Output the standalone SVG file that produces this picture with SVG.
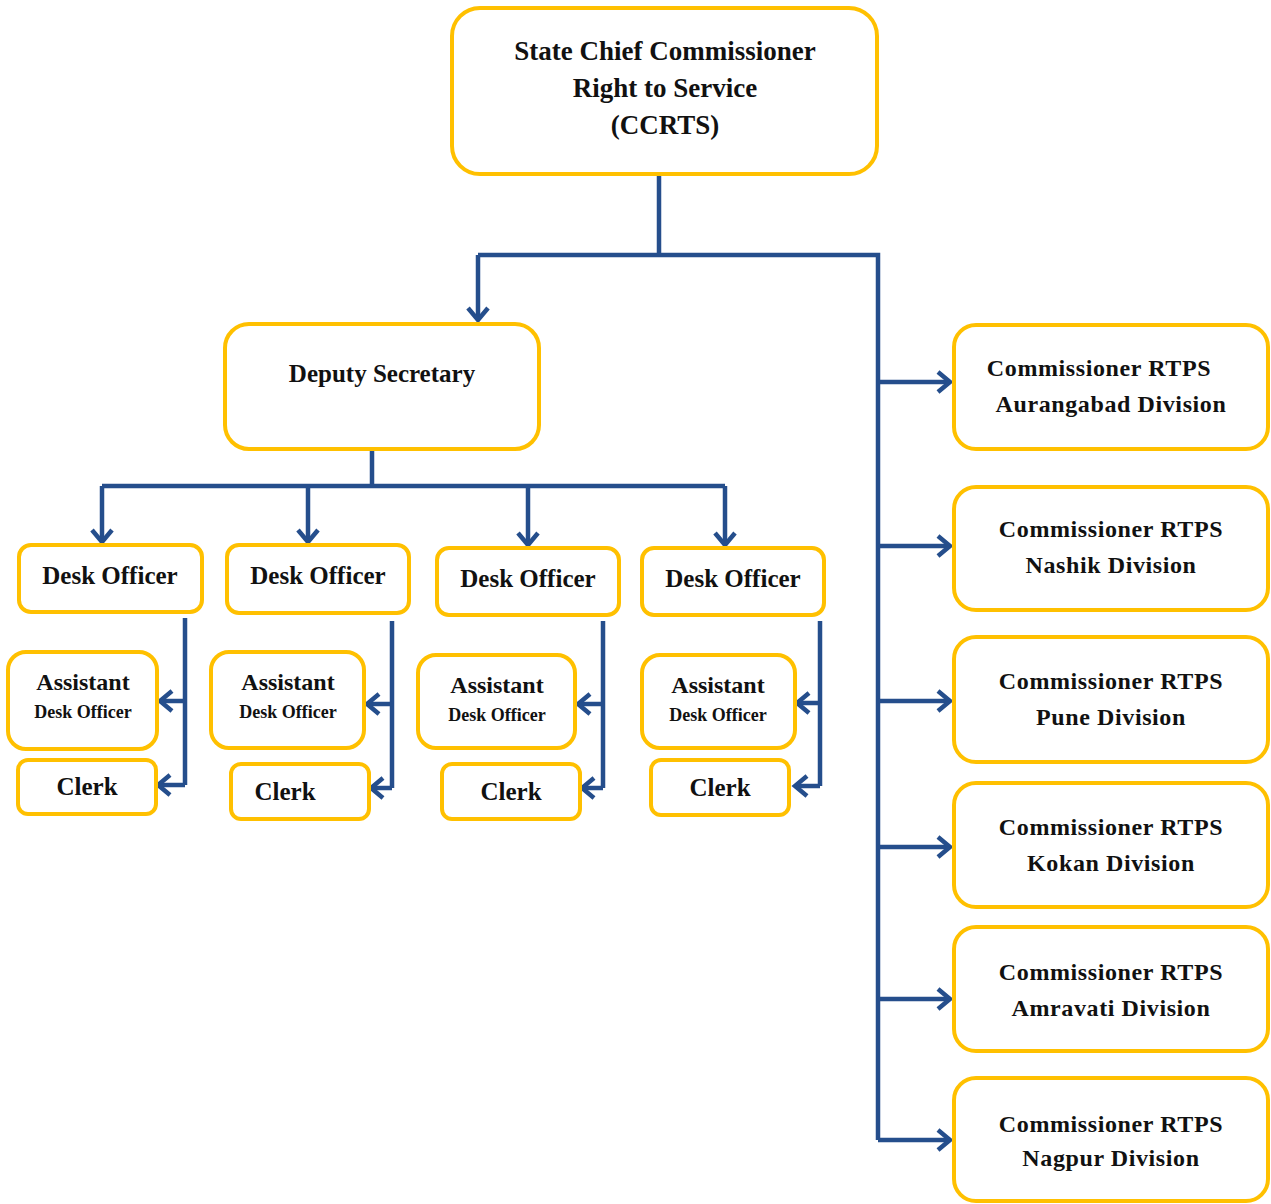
<svg xmlns="http://www.w3.org/2000/svg" width="1271" height="1204" viewBox="0 0 1271 1204">
<style>
.box{fill:#fff;stroke:#FFC000;stroke-width:4}
.t{font-family:"Liberation Serif","Times New Roman",serif;font-weight:bold;fill:#111;text-anchor:middle}
.r{font-size:24px;letter-spacing:0.6px}
.c{fill:none;stroke:#254E8C;stroke-width:4.5}
</style>
<defs>
<marker id="ah" markerUnits="userSpaceOnUse" markerWidth="30" markerHeight="30" refX="20" refY="15" orient="auto">
<polyline points="8,5 20,15 8,25" fill="none" stroke="#254E8C" stroke-width="4.5"/>
</marker>
</defs>
<rect width="1271" height="1204" fill="#fff"/>
<g id="connectors">
<path class="c" d="M659,174 V255 M478,255 H878 V1140"/>
<path class="c" d="M478,255 V320" marker-end="url(#ah)"/>
<path class="c" d="M372,449 V486 M102,486 H725"/>
<path class="c" d="M102,486 V542" marker-end="url(#ah)"/>
<path class="c" d="M308,486 V542" marker-end="url(#ah)"/>
<path class="c" d="M528,486 V545" marker-end="url(#ah)"/>
<path class="c" d="M725,486 V545" marker-end="url(#ah)"/>
<path class="c" d="M185,618 V785"/>
<path class="c" d="M185,701 H160" marker-end="url(#ah)"/>
<path class="c" d="M185,785 H158" marker-end="url(#ah)"/>
<path class="c" d="M392,621 V788"/>
<path class="c" d="M392,704 H367" marker-end="url(#ah)"/>
<path class="c" d="M392,788 H371" marker-end="url(#ah)"/>
<path class="c" d="M603,621 V788"/>
<path class="c" d="M603,704 H578" marker-end="url(#ah)"/>
<path class="c" d="M603,788 H582" marker-end="url(#ah)"/>
<path class="c" d="M820,621 V786"/>
<path class="c" d="M820,703 H797" marker-end="url(#ah)"/>
<path class="c" d="M820,786 H795" marker-end="url(#ah)"/>
<path class="c" d="M878,382 H950" marker-end="url(#ah)"/>
<path class="c" d="M878,546 H950" marker-end="url(#ah)"/>
<path class="c" d="M878,701 H950" marker-end="url(#ah)"/>
<path class="c" d="M878,847 H950" marker-end="url(#ah)"/>
<path class="c" d="M878,999 H950" marker-end="url(#ah)"/>
<path class="c" d="M878,1140 H950" marker-end="url(#ah)"/>
</g>
<g id="ccrts"><rect class="box" x="452" y="8" width="425" height="166" rx="28"/>
<text class="t" font-size="27" x="665" y="60">State Chief Commissioner</text>
<text class="t" font-size="27" x="665" y="97">Right to Service</text>
<text class="t" font-size="27" x="665" y="134">(CCRTS)</text></g>
<g id="deputy"><rect class="box" x="225" y="324" width="314" height="125" rx="24"/>
<text class="t" font-size="25" x="382" y="382">Deputy Secretary</text></g>

<g id="desk1"><rect class="box" x="19" y="545" width="183" height="67" rx="12"/><text class="t" font-size="25" x="110" y="584">Desk Officer</text></g>
<g id="desk2"><rect class="box" x="227" y="545" width="182" height="68" rx="12"/><text class="t" font-size="25" x="318" y="584">Desk Officer</text></g>
<g id="desk3"><rect class="box" x="437" y="548" width="182" height="67" rx="12"/><text class="t" font-size="25" x="528" y="587">Desk Officer</text></g>
<g id="desk4"><rect class="box" x="642" y="548" width="182" height="67" rx="12"/><text class="t" font-size="25" x="733" y="587">Desk Officer</text></g>

<g id="asst1"><rect class="box" x="8" y="652" width="149" height="97" rx="18"/><text class="t" font-size="24" x="83" y="690">Assistant</text><text class="t" font-size="18" x="83" y="718">Desk Officer</text></g>
<g id="asst2"><rect class="box" x="211" y="652" width="153" height="96" rx="18"/><text class="t" font-size="24" x="288" y="690">Assistant</text><text class="t" font-size="18" x="288" y="718">Desk Officer</text></g>
<g id="asst3"><rect class="box" x="418" y="655" width="157" height="93" rx="18"/><text class="t" font-size="24" x="497" y="693">Assistant</text><text class="t" font-size="18" x="497" y="721">Desk Officer</text></g>
<g id="asst4"><rect class="box" x="642" y="655" width="153" height="93" rx="18"/><text class="t" font-size="24" x="718" y="693">Assistant</text><text class="t" font-size="18" x="718" y="721">Desk Officer</text></g>

<g id="clerk1"><rect class="box" x="18" y="760" width="138" height="54" rx="10"/><text class="t" font-size="25" x="87" y="795">Clerk</text></g>
<g id="clerk2"><rect class="box" x="231" y="764" width="138" height="55" rx="10"/><text class="t" font-size="25" x="285" y="800">Clerk</text></g>
<g id="clerk3"><rect class="box" x="442" y="764" width="138" height="55" rx="10"/><text class="t" font-size="25" x="511" y="800">Clerk</text></g>
<g id="clerk4"><rect class="box" x="651" y="760" width="138" height="55" rx="10"/><text class="t" font-size="25" x="720" y="796">Clerk</text></g>

<g id="aurangabad"><rect class="box" x="954" y="325" width="314" height="124" rx="22"/><text class="t r" x="1099" y="376">Commissioner RTPS</text><text class="t r" x="1111" y="412">Aurangabad Division</text></g>
<g id="nashik"><rect class="box" x="954" y="487" width="314" height="123" rx="22"/><text class="t r" x="1111" y="537">Commissioner RTPS</text><text class="t r" x="1111" y="573">Nashik Division</text></g>
<g id="pune"><rect class="box" x="954" y="637" width="314" height="125" rx="22"/><text class="t r" x="1111" y="689">Commissioner RTPS</text><text class="t r" x="1111" y="725">Pune Division</text></g>
<g id="kokan"><rect class="box" x="954" y="783" width="314" height="124" rx="22"/><text class="t r" x="1111" y="835">Commissioner RTPS</text><text class="t r" x="1111" y="871">Kokan Division</text></g>
<g id="amravati"><rect class="box" x="954" y="927" width="314" height="124" rx="22"/><text class="t r" x="1111" y="980">Commissioner RTPS</text><text class="t r" x="1111" y="1016">Amravati Division</text></g>
<g id="nagpur"><rect class="box" x="954" y="1078" width="314" height="123" rx="22"/><text class="t r" x="1111" y="1132">Commissioner RTPS</text><text class="t r" x="1111" y="1166">Nagpur Division</text></g>
</svg>
